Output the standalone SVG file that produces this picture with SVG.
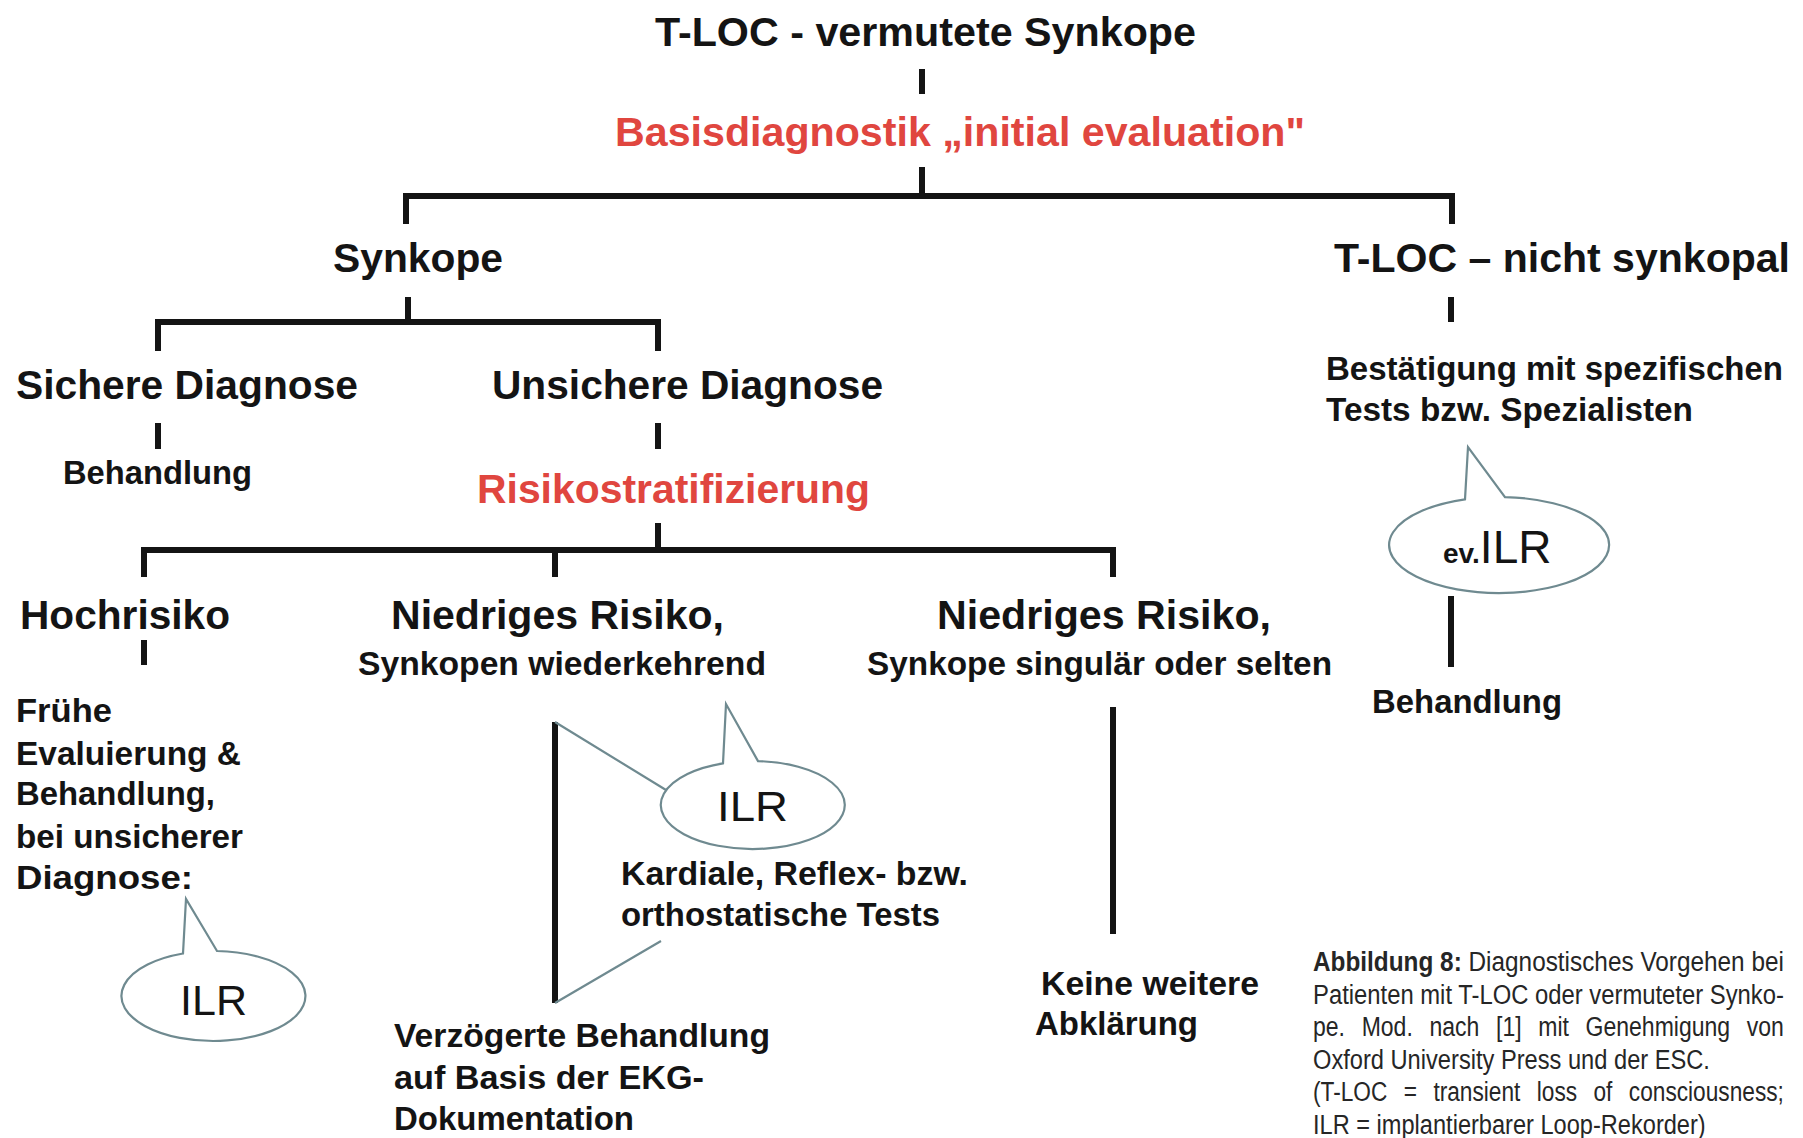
<svg xmlns="http://www.w3.org/2000/svg" width="1803" height="1138" viewBox="0 0 1803 1138">
<style>
text{font-family:"Liberation Sans",Arial,sans-serif;fill:#141414}
.b{font-weight:bold}
.h{font-size:41px}
.s{font-size:33px}
.red{fill:#e0463f}
.ilr{font-size:43px;font-weight:normal}
.cap{font-size:27px;fill:#262626}
.ln{stroke:#141414;stroke-width:6;fill:none}
.bub{fill:#fff;stroke:#6f8a90;stroke-width:2.2;stroke-linejoin:miter}
.thin{stroke:#6f8a90;stroke-width:2.2;fill:none}
</style>
<rect width="1803" height="1138" fill="#fff"/>
<g id="connectors">
<path class="ln" d="M922 69V94M922 167V196M406 224V196H1452V224"/>
<path class="ln" d="M408 297V322M158 351V322H658V351"/>
<path class="ln" d="M158 423V449M658 423V449M658 523V550M144 577V550H1113V577M555 550V577"/>
<path class="ln" d="M144 640V665"/>
<path class="ln" d="M555 722V1003M1113 707V934"/>
<path class="ln" d="M1451 297V322M1451 596V667"/>
<path class="thin" d="M555 722L666 790M555 1003L661 941"/>
</g>
<g id="n-title"><text class="b h" x="655" y="46" textLength="541" lengthAdjust="spacingAndGlyphs">T-LOC - vermutete Synkope</text></g>
<g id="n-basis"><text class="b h red" x="615" y="146" textLength="690" lengthAdjust="spacingAndGlyphs">Basisdiagnostik „initial evaluation"</text></g>
<g id="n-synkope"><text class="b h" x="333" y="272" textLength="170" lengthAdjust="spacingAndGlyphs">Synkope</text></g>
<g id="n-tloc"><text class="b h" x="1334" y="272" textLength="456" lengthAdjust="spacingAndGlyphs">T-LOC – nicht synkopal</text></g>
<g id="n-sicher"><text class="b h" x="16" y="399" textLength="342" lengthAdjust="spacingAndGlyphs">Sichere Diagnose</text></g>
<g id="n-unsicher"><text class="b h" x="492" y="399" textLength="391" lengthAdjust="spacingAndGlyphs">Unsichere Diagnose</text></g>
<g id="n-behandlung1"><text class="b s" x="63" y="484" textLength="189" lengthAdjust="spacingAndGlyphs">Behandlung</text></g>
<g id="n-risiko"><text class="b h red" x="477" y="503" textLength="393" lengthAdjust="spacingAndGlyphs">Risikostratifizierung</text></g>
<g id="n-hoch"><text class="b h" x="20" y="629" textLength="210" lengthAdjust="spacingAndGlyphs">Hochrisiko</text></g>
<g id="n-niedrig1">
<text class="b h" x="391" y="629" textLength="333" lengthAdjust="spacingAndGlyphs">Niedriges Risiko,</text>
<text class="b s" x="358" y="675" textLength="408" lengthAdjust="spacingAndGlyphs">Synkopen wiederkehrend</text>
</g>
<g id="n-niedrig2">
<text class="b h" x="937" y="629" textLength="334" lengthAdjust="spacingAndGlyphs">Niedriges Risiko,</text>
<text class="b s" x="867" y="675" textLength="465" lengthAdjust="spacingAndGlyphs">Synkope singulär oder selten</text>
</g>
<g id="n-fruehe">
<text class="b s" x="16" y="722" textLength="96" lengthAdjust="spacingAndGlyphs">Frühe</text>
<text class="b s" x="16" y="765" textLength="225" lengthAdjust="spacingAndGlyphs">Evaluierung &amp;</text>
<text class="b s" x="16" y="805" textLength="199" lengthAdjust="spacingAndGlyphs">Behandlung,</text>
<text class="b s" x="16" y="848" textLength="227" lengthAdjust="spacingAndGlyphs">bei unsicherer</text>
<text class="b s" x="16" y="889" textLength="177" lengthAdjust="spacingAndGlyphs">Diagnose:</text>
</g>
<g id="n-ilr1">
<path class="bub" d="M183 953.5L186 899L217 951A92 45 0 1 1 183 953.5Z"/>
<text class="ilr" x="180" y="1015" textLength="67" lengthAdjust="spacingAndGlyphs">ILR</text>
</g>
<g id="n-ilr2">
<path class="bub" d="M723 763.4L726 704L758 761.1A92 44 0 1 1 723 763.4Z"/>
<text class="ilr" x="717" y="821" textLength="71" lengthAdjust="spacingAndGlyphs">ILR</text>
</g>
<g id="n-tests">
<text class="b s" x="621" y="885" textLength="347" lengthAdjust="spacingAndGlyphs">Kardiale, Reflex- bzw.</text>
<text class="b s" x="621" y="926" textLength="319" lengthAdjust="spacingAndGlyphs">orthostatische Tests</text>
</g>
<g id="n-verzoegert">
<text class="b s" x="394" y="1047" textLength="376" lengthAdjust="spacingAndGlyphs">Verzögerte Behandlung</text>
<text class="b s" x="394" y="1089" textLength="310" lengthAdjust="spacingAndGlyphs">auf Basis der EKG-</text>
<text class="b s" x="394" y="1130" textLength="240" lengthAdjust="spacingAndGlyphs">Dokumentation</text>
</g>
<g id="n-keine">
<text class="b s" x="1041" y="995" textLength="218" lengthAdjust="spacingAndGlyphs">Keine weitere</text>
<text class="b s" x="1035" y="1035" textLength="163" lengthAdjust="spacingAndGlyphs">Abklärung</text>
</g>
<g id="n-bestaetigung">
<text class="b s" x="1326" y="380" textLength="457" lengthAdjust="spacingAndGlyphs">Bestätigung mit spezifischen</text>
<text class="b s" x="1326" y="421" textLength="367" lengthAdjust="spacingAndGlyphs">Tests bzw. Spezialisten</text>
</g>
<g id="n-evilr">
<path class="bub" d="M1465 499.4L1468 447L1505 497.1A110 48 0 1 1 1465 499.4Z"/>
<text x="1443" y="563"><tspan class="b" font-size="28">ev.</tspan><tspan font-size="46">ILR</tspan></text>
</g>
<g id="n-behandlung2"><text class="b s" x="1372" y="713" textLength="190" lengthAdjust="spacingAndGlyphs">Behandlung</text></g>
<g id="caption">
<text class="cap" transform="translate(1313 971) scale(0.85 1)" textLength="554" lengthAdjust="spacingAndGlyphs"><tspan font-weight="bold">Abbildung 8:</tspan> Diagnostisches Vorgehen bei</text>
<text class="cap" transform="translate(1313 1003.5) scale(0.85 1)" textLength="554" lengthAdjust="spacingAndGlyphs">Patienten mit T-LOC oder vermuteter Synko-</text>
<text class="cap" transform="translate(1313 1036) scale(0.85 1)" textLength="554" lengthAdjust="spacingAndGlyphs" word-spacing="12">pe. Mod. nach [1] mit Genehmigung von</text>
<text class="cap" transform="translate(1313 1068.5) scale(0.85 1)" textLength="467" lengthAdjust="spacingAndGlyphs">Oxford University Press und der ESC.</text>
<text class="cap" transform="translate(1313 1101) scale(0.85 1)" textLength="554" lengthAdjust="spacingAndGlyphs" word-spacing="12">(T-LOC = transient loss of consciousness;</text>
<text class="cap" transform="translate(1313 1133.5) scale(0.85 1)" textLength="462" lengthAdjust="spacingAndGlyphs">ILR = implantierbarer Loop-Rekorder)</text>
</g>
</svg>
